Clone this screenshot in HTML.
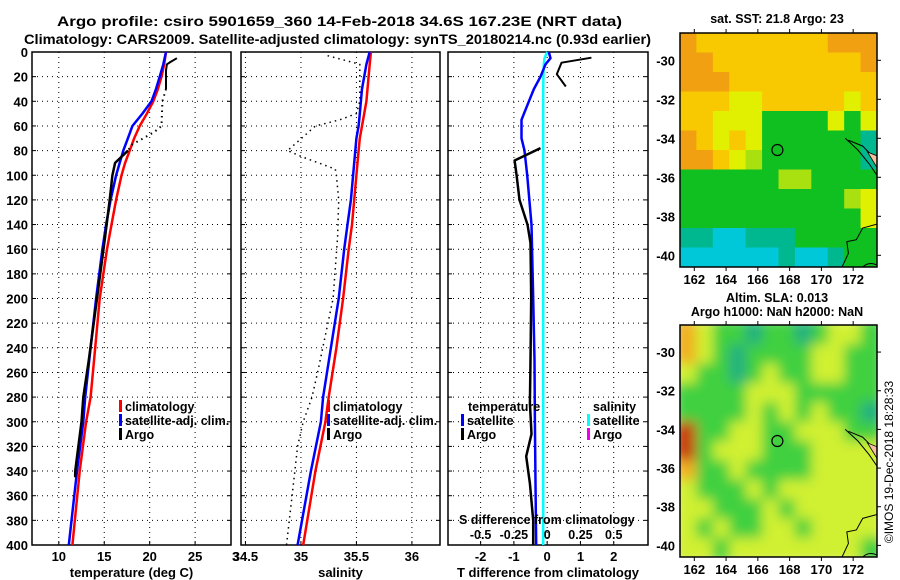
<!DOCTYPE html>
<html><head><meta charset="utf-8"><style>
html,body{margin:0;padding:0;background:#fff}
svg{display:block}
text{font-family:"Liberation Sans",sans-serif;font-weight:bold;fill:#000}
</style></head><body>
<svg id="fig" width="900" height="580" viewBox="0 0 900 580" xmlns="http://www.w3.org/2000/svg">
<rect width="900" height="580" fill="#fff"/>
<text x="57" y="26" font-size="14" textLength="565" lengthAdjust="spacingAndGlyphs">Argo profile: csiro 5901659_360 14-Feb-2018 34.6S 167.23E (NRT data)</text>
<text x="24" y="44" font-size="14" textLength="627" lengthAdjust="spacingAndGlyphs">Climatology: CARS2009. Satellite-adjusted climatology: synTS_20180214.nc (0.93d earlier)</text>
<g id="p1"></g>
<g id="p2"></g>
<g id="p3"></g>
<g id="m1"></g>
<g id="m2"></g>
<text transform="translate(893,462) rotate(-90)" text-anchor="middle" font-size="12" font-weight="normal" style="font-weight:normal">©IMOS 19-Dec-2018 18:28:33</text>
</svg>
<script>
// ---------- data ----------
const depthTicks = [0,20,40,60,80,100,120,140,160,180,200,220,240,260,280,300,320,340,360,380,400];
const tTicks = [10,15,20,25];
const sTicks = [34.5,35,35.5,36];
const dTTicks = [-2,-1,0,1,2];
const dSTicks = [-0.5,-0.25,0,0.25,0.5];
const dSTickLabels = ["-0.5","-0.25","0","0.25","0.5"];

const climDepth = [0,10,20,30,40,50,60,70,80,90,100,120,140,160,200,240,280,300,340,400];
const climT     = [21.8,21.6,21.3,20.9,20.4,19.7,18.9,18.3,17.8,17.3,16.9,16.3,15.8,15.3,14.5,14.0,13.5,13.0,12.3,11.5];
const satT      = [21.8,21.5,21.1,20.7,20.2,19.2,18.1,17.6,17.1,16.7,16.3,15.7,15.2,14.8,14.1,13.5,12.9,12.7,12.0,11.1];
const climS     = [35.63,35.62,35.61,35.60,35.59,35.57,35.55,35.53,35.52,35.51,35.50,35.48,35.46,35.43,35.38,35.32,35.25,35.22,35.13,35.02];
const satS      = [35.62,35.59,35.57,35.55,35.54,35.53,35.52,35.50,35.49,35.48,35.47,35.45,35.42,35.39,35.34,35.27,35.20,35.18,35.09,34.97];

const argoDepth = [5,8,10,15,30,40,60,65,75,80,90,100,120,150,200,250,280,300,340,345];
const argoT     = [23.0,22.3,21.9,21.8,21.8,21.4,21.3,20.5,18.1,17.6,16.2,15.9,15.6,15.1,14.2,13.3,12.7,12.5,11.8,11.8];
const argoTDottedFrom = 4, argoTDottedTo = 9;
const argoSDepth = [3,8,10,40,50,55,60,80,85,95,100,120,150,200,260,280,300,320,360,400];
const argoS      = [35.24,35.45,35.53,35.53,35.50,35.35,35.13,34.88,35.01,35.31,35.32,35.34,35.33,35.29,35.15,35.10,35.02,34.97,34.92,34.87];

const dDepth   = [0,5,10,20,30,40,55,70,80,100,140,200,250,300,350,400];
const satTDiff = [0.05,0.1,-0.05,-0.2,-0.4,-0.55,-0.77,-0.77,-0.68,-0.6,-0.47,-0.42,-0.38,-0.37,-0.35,-0.33];
const satSDiff = [0.0,-0.02,-0.025,-0.028,-0.03,-0.03,-0.03,-0.03,-0.03,-0.03,-0.03,-0.03,-0.03,-0.03,-0.03,-0.03];
const argoDDepthA = [4.6,8.7,18,28];
const argoTDiffA  = [1.33,0.43,0.29,0.56];
const argoDDepthB = [78,88,100,120,140,155,200,250,285,310,328,350,380,400];
const argoTDiffB  = [-0.2,-0.98,-0.92,-0.83,-0.59,-0.5,-0.48,-0.5,-0.52,-0.47,-0.63,-0.52,-0.42,-0.42];

const lonTicks = [162,164,166,168,170,172];
const latTicks = [-30,-32,-34,-36,-38,-40];
const argoLon = 167.23, argoLat = -34.6;
const sstRows = [
"OYYYYYYYYOOO","OOYYYYYYYYYO","OOOYYYYYYYYY","YYYyyYYYYYyY",
"YYyyyGGGGyGy","OYyYyGGGGGGT","OOYyLGGGGGGT","GGGGGGLLGGGG",
"GGGGGGGGGGLy","GGGGGGGGGGGy","TTCCTTTGGGGG","CCCCCCTCCTGG"];
const slaRows = [
"OyGGTGGTGyyG","OyGTGGGGyyGG","yGGTGyGGyyGG","GGGGyyyGGGGG",
"GGGGyGyGyGGT","RGGyyGGyyyGG","RGyyyGGGyyyy","OGGyGGGGyyyy",
"yGGGyGyyyyyy","yyGGGyGyyyyy","yGyGGyyGyyyy","yyGyyyyyyyyG"];

// ---------- helpers ----------
const NS="http://www.w3.org/2000/svg";
function mk(parent,tag,attrs){const e=document.createElementNS(NS,tag);for(const k in attrs)e.setAttribute(k,attrs[k]);parent.appendChild(e);return e;}
const Y0=52, Y1=545;
const yD = d => Y0 + d*(Y1-Y0)/400;

function panel(g,x0,x1,xmin,xmax,ticks,labels,title,showY,name){
  const sx = v => x0 + (v-xmin)*(x1-x0)/(xmax-xmin);
  const grid=mk(g,'g',{});
  
  
  depthTicks.forEach(d=>{ if(d>0&&d<400) mk(grid,'line',{x1:x0,x2:x1,y1:yD(d),y2:yD(d),stroke:'#000','stroke-width':1,'stroke-dasharray':'1,4'});
    mk(grid,'line',{x1:x0,x2:x0+4,y1:yD(d),y2:yD(d),stroke:'#000'});
    mk(grid,'line',{x1:x1-4,x2:x1,y1:yD(d),y2:yD(d),stroke:'#000'});
    if(showY){const t=mk(g,'text',{x:x0-4,y:yD(d)+5,'text-anchor':'end','font-size':13});t.textContent=d;
      
      }
  });
  ticks.forEach((v,i)=>{const x=sx(v);
    mk(grid,'line',{x1:x,x2:x,y1:Y0,y2:Y1,stroke:'#000','stroke-dasharray':'1,4'});
    mk(grid,'line',{x1:x,x2:x,y1:Y1-4,y2:Y1,stroke:'#000'});
    const t=mk(g,'text',{x:x,y:561,'text-anchor':'middle','font-size':13});t.textContent=labels[i];
    
    
  });
  const r=mk(g,'rect',{x:x0,y:Y0,width:x1-x0,height:Y1-Y0,fill:'none',stroke:'#000','stroke-width':1.5});
  
  
  const tt=mk(g,'text',{x:(x0+x1)/2,y:577,'text-anchor':'middle','font-size':13});tt.textContent=title;
  
  
  return sx;
}
function line(g,xs,ds,sx,color,w,dash,name){
  const pts=xs.map((v,i)=>sx(v).toFixed(1)+','+yD(ds[i]).toFixed(1)).join(' ');
  const p=mk(g,'polyline',{points:pts,fill:'none',stroke:color,'stroke-width':w,'stroke-linejoin':'round'});
  if(dash)p.setAttribute('stroke-dasharray',dash);
  
  
  return p;
}
function legend(g,x,y,color,label,name){
  mk(g,'rect',{x:x,y:y-11,width:3,height:12,fill:color});
  const t=mk(g,'text',{x:x+6,y:y,'font-size':12.5});t.textContent=label;
  
  
}

// ---------- panel 1 ----------
const g1=document.getElementById('p1');
const sx1=panel(g1,32,231,7.05,28.95,tTicks,tTicks.map(String),'temperature (deg C)',true,'temperature');
const c3=mk(g1,'text',{x:232,y:561,'font-size':13});c3.textContent='3';


line(g1,climT,climDepth,sx1,'#f00',2.5,null,'temperature-climatology-line');
line(g1,satT,climDepth,sx1,'#00f',2.5,null,'temperature-satellite-line');
line(g1,argoT.slice(0,argoTDottedFrom+1),argoDepth.slice(0,argoTDottedFrom+1),sx1,'#000',2,null,'temperature-argo-line-top');
line(g1,argoT.slice(argoTDottedFrom,argoTDottedTo+1),argoDepth.slice(argoTDottedFrom,argoTDottedTo+1),sx1,'#000',2,'1.5,4','temperature-argo-line-gap');
line(g1,argoT.slice(argoTDottedTo),argoDepth.slice(argoTDottedTo),sx1,'#000',2.5,null,'temperature-argo-line');
legend(g1,119,411,'#f00','climatology','legend-climatology');
legend(g1,119,425,'#00f','satellite-adj. clim.','legend-satellite');
legend(g1,119,439,'#000','Argo','legend-argo');

// ---------- panel 2 ----------
const g2=document.getElementById('p2');
const sx2=panel(g2,241,440,34.46,36.253,sTicks,sTicks.map(String),'salinity',false,'salinity');
line(g2,climS,climDepth,sx2,'#f00',2.5,null,'salinity-climatology-line');
line(g2,satS,climDepth,sx2,'#00f',2.5,null,'salinity-satellite-line');
line(g2,argoS,argoSDepth,sx2,'#000',1.5,'1.5,4','salinity-argo-line');
legend(g2,327,411,'#f00','climatology','legend-climatology');
legend(g2,327,425,'#00f','satellite-adj. clim.','legend-satellite');
legend(g2,327,439,'#000','Argo','legend-argo');

// ---------- panel 3 ----------
const g3=document.getElementById('p3');
const sx3=panel(g3,448,648,-2.98,3.03,dTTicks,dTTicks.map(String),'T difference from climatology',false,'difference');
const sxS = v => sx3(v*4);
line(g3,satSDiff,dDepth,sxS,'#0ff',2.5,null,'salinity-satellite-diff-line');
line(g3,satTDiff,dDepth,sx3,'#00f',2.5,null,'temperature-satellite-diff-line');
line(g3,argoTDiffA,argoDDepthA,sx3,'#000',2,null,'temperature-argo-diff-line-top');
line(g3,argoTDiffB,argoDDepthB,sx3,'#000',2.5,null,'temperature-argo-diff-line');
const lt=mk(g3,'text',{x:468,y:411,'font-size':12.5});lt.textContent='temperature';


legend(g3,461,425,'#00f','satellite','legend-t-satellite');
legend(g3,461,439,'#000','Argo','legend-t-argo');
const ls=mk(g3,'text',{x:593,y:411,'font-size':12.5});ls.textContent='salinity';


legend(g3,587,425,'#0ff','satellite','legend-s-satellite');
legend(g3,587,439,'#e0e','Argo','legend-s-argo');
const st=mk(g3,'text',{x:459,y:524,'font-size':12.5});st.textContent='S difference from climatology';


dSTicks.forEach((v,i)=>{const t=mk(g3,'text',{x:sxS(v),y:539,'text-anchor':'middle','font-size':12.5});t.textContent=dSTickLabels[i];
  
  });

// ---------- maps ----------
const sstCol={O:'#f0a010',Y:'#f8c800',y:'#e0f000',L:'#a8e010',G:'#10c020',T:'#00b890',C:'#00c8d8'};
const slaCol={O:'#f0b020',R:'#c84010',y:'#d0f030',G:'#40d040',T:'#20b080'};
function map(g,top,bottom,rows,cols,title1,title2,blur,name){
  const x0=680,x1=877;
  const lon0=161.1,lon1=173.5;
  const lat30=top+ (bottom-top)*(1.4/12);
  const sxm=v=>x0+(v-lon0)*(x1-x0)/(lon1-lon0);
  const sy=v=>top+(-28.6-v)*(bottom-top)/12;
  const clipId=name+'-clip';
  const cp=mk(g,'clipPath',{id:clipId});mk(cp,'rect',{x:x0,y:top,width:x1-x0,height:bottom-top});
  const cells=mk(g,'g',{'clip-path':'url(#'+clipId+')'});
  const inner=mk(cells,'g',blur?{filter:'url(#'+name+'-blur)'}:{});
  if(blur){const f=mk(g,'filter',{id:name+'-blur',x:'-10%',y:'-10%',width:'120%',height:'120%'});mk(f,'feGaussianBlur',{stdDeviation:6});}
  const cw=(x1-x0)/12,ch=(bottom-top)/12;
  rows.forEach((r,i)=>{[...r].forEach((c,j)=>{
    const rc=mk(inner,'rect',{x:x0+j*cw-(blur?6:0)*(j==0),y:top+i*ch-(blur?6:0)*(i==0),width:cw+0.6+(blur?6:0)*((j==0)+(j==11)),height:ch+0.6+(blur?6:0)*((i==0)+(i==11)),fill:cols[c]});
    
    
  });});
  // coastline
  mk(cells,'path',{d:`M${sxm(171.5)},${sy(-34)} L${sxm(172.3)},${sy(-34.6)} L${sxm(173)},${sy(-35.3)} L${sxm(173.5)},${sy(-35.9)} M${sxm(171.7)},${sy(-34.1)} L${sxm(172.6)},${sy(-34.4)} L${sxm(173.2)},${sy(-34.9)} M${sxm(171.3)},${sy(-40.6)} L${sxm(171.7)},${sy(-39.9)} L${sxm(171.6)},${sy(-39.3)} L${sxm(172.2)},${sy(-39.2)} L${sxm(172.6)},${sy(-38.6)} L${sxm(173.5)},${sy(-38.4)} M${sxm(172.6)},${sy(-40.6)} Q${sxm(173)},${sy(-40.3)} ${sxm(173.5)},${sy(-40.5)}`,fill:'none',stroke:'#000','stroke-width':1});
  mk(cells,'path',{d:`M${sxm(172.9)},${sy(-34.7)} L${sxm(173.5)},${sy(-34.9)} L${sxm(173.5)},${sy(-35.5)} Z`,fill:'#f8c0a0',stroke:'#000','stroke-width':0.8});
  const mk1=mk(g,'circle',{cx:sxm(argoLon),cy:sy(argoLat),r:5.5,fill:'none',stroke:'#000','stroke-width':1.2});
  
  
  const fr=mk(g,'rect',{x:x0,y:top,width:x1-x0,height:bottom-top,fill:'none',stroke:'#000','stroke-width':1.5});
  
  
  lonTicks.forEach(v=>{const x=sxm(v);
    mk(g,'line',{x1:x,x2:x,y1:top-4,y2:top,stroke:'#000'});
    mk(g,'line',{x1:x,x2:x,y1:bottom,y2:bottom+4,stroke:'#000'});
    const t=mk(g,'text',{x:x,y:bottom+17,'text-anchor':'middle','font-size':13});t.textContent=v;
    
    });
  latTicks.forEach(v=>{const y=sy(v);
    mk(g,'line',{x1:x1,x2:x1+4,y1:y,y2:y,stroke:'#000'});
    const t=mk(g,'text',{x:675,y:y+5,'text-anchor':'end','font-size':13});t.textContent=v;
    
    });
  const t1=mk(g,'text',{x:777,y:title2?top-23:top-10,'text-anchor':'middle','font-size':12.5});t1.textContent=title1;
  
  
  if(title2){const t2=mk(g,'text',{x:777,y:top-9,'text-anchor':'middle','font-size':12.5});t2.textContent=title2;
    
    }
}
map(document.getElementById('m1'),33,267,sstRows,sstCol,'sat. SST: 21.8 Argo: 23',null,false,'sst-map');
map(document.getElementById('m2'),325,557,slaRows,slaCol,'Altim. SLA: 0.013','Argo h1000: NaN h2000: NaN',true,'sla-map');
</script>
</body></html>
